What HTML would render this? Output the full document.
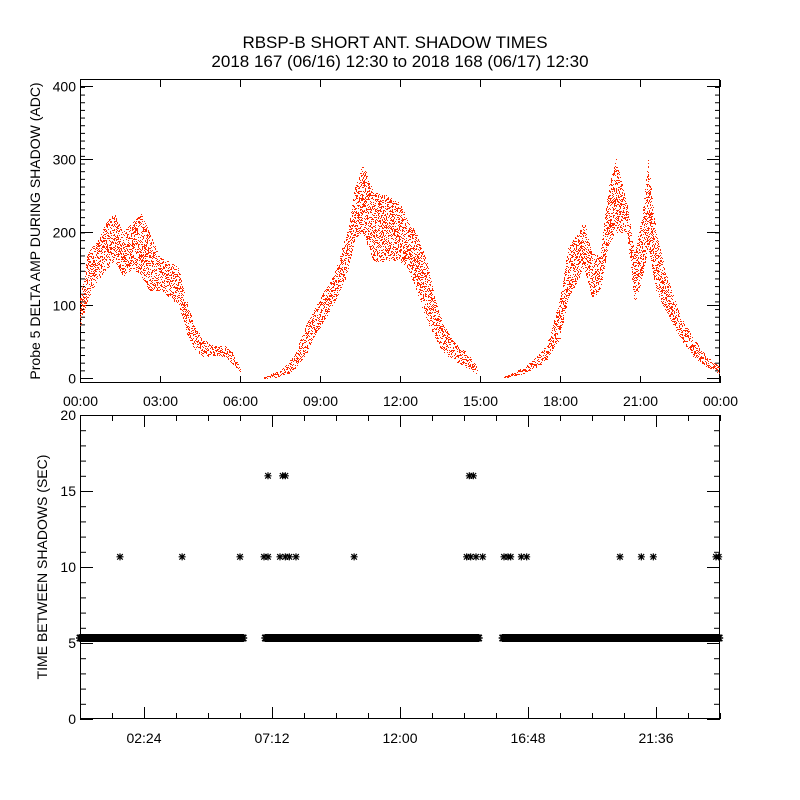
<!DOCTYPE html>
<html><head><meta charset="utf-8"><style>
body{margin:0;background:#fff}
svg{display:block;font-family:"Liberation Sans",sans-serif}
</style></head><body>
<svg id="c" width="800" height="800" viewBox="0 0 800 800">
<rect width="800" height="800" fill="#fff"/>
<text x="395" y="48" font-size="17" text-anchor="middle">RBSP-B SHORT ANT. SHADOW TIMES</text>
<text x="400" y="67" font-size="17" text-anchor="middle">2018 167 (06/16) 12:30 to 2018 168 (06/17) 12:30</text>
<text transform="translate(40,231) rotate(-90)" font-size="14" text-anchor="middle">Probe 5 DELTA AMP DURING SHADOW (ADC)</text>
<text transform="translate(47,567) rotate(-90)" font-size="14" text-anchor="middle">TIME BETWEEN SHADOWS (SEC)</text>
<g id="topPanel"></g>
<g id="botPanel"></g>
</svg>
<script>
// Top panel envelope data (hours, ADC)
const seg1T=[0,0.3,0.6,1.0,1.3,1.6,2.0,2.3,2.6,3.0,3.4,3.7,4.0,4.3,4.6,5.0,5.4,5.7,6.0];
const seg1Hi=[110,175,185,215,225,200,215,225,200,165,160,150,105,70,55,45,45,35,15];
const seg1Lo=[70,110,130,150,160,140,150,140,120,120,110,100,60,40,30,30,30,20,8];
const seg2T=[6.9,7.5,8.0,8.5,9.0,9.5,10.0,10.3,10.6,11.0,11.5,12.0,12.3,12.6,13.0,13.3,13.6,14.0,14.5,14.9];
const seg2Hi=[2,10,30,75,110,140,200,260,295,255,250,240,215,200,160,110,75,50,35,15];
const seg2Lo=[0,2,10,35,70,100,140,190,200,160,160,160,150,120,80,55,35,25,15,5];
const seg3T=[15.9,16.5,17.0,17.5,18.0,18.3,18.6,18.9,19.2,19.5,19.8,20.1,20.5,20.8,21.1,21.3,21.6,22.0,22.5,23.0,23.5,24];
const seg3Hi=[2,12,25,45,110,180,195,215,170,170,260,300,240,170,230,300,200,140,85,55,30,15];
const seg3Lo=[0,5,12,25,55,110,130,150,110,120,180,200,200,100,140,180,120,90,55,30,15,5];
const topXLabels=["00:00","03:00","06:00","09:00","12:00","15:00","18:00","21:00","00:00"];
const topYLabels=[0,100,200,300,400];
// Bottom panel data
const baseRanges=[[0,6.15],[6.95,14.95],[15.85,24]];
const baseValue=5.33;
const t10=[1.5,3.83,6.0,6.9,7.05,7.5,7.7,7.85,8.1,10.28,14.5,14.65,14.85,15.1,15.9,16.05,16.15,16.55,16.75,20.25,21.05,21.5,23.85,23.95];
const v10=10.67;
const t16=[7.05,7.6,7.7,14.6,14.75];
const v16=16;
const botXLabels=["02:24","07:12","12:00","16:48","21:36"];
const botYLabels=[0,5,10,15,20];

const NS="http://www.w3.org/2000/svg";
const X0=80,X1=720;
const xs=h=>X0+h*(X1-X0)/24;
const yTop=v=>378-v*0.73;
const yBot=v=>719-v*15.2;
function mk(p,tag,a){const e=document.createElementNS(NS,tag);for(const k in a)e.setAttribute(k,a[k]);p.appendChild(e);return e;}
const topG=document.getElementById('topPanel'),botG=document.getElementById('botPanel');

const f1=mk(topG,'rect',{x:80.5,y:79.5,width:639,height:303,fill:'none',stroke:'#000'});


const f2=mk(botG,'rect',{x:80.5,y:415.5,width:639,height:303,fill:'none',stroke:'#000'});



for(let i=0;i<topXLabels.length;i++){
  const x=xs(i*3)+0.5;
  mk(topG,'line',{x1:x,y1:383,x2:x,y2:376,stroke:'#000'});
  mk(topG,'line',{x1:x,y1:80,x2:x,y2:87,stroke:'#000'});
  const t=mk(topG,'text',{x:x,y:406,'font-size':14,'text-anchor':'middle'});
  t.textContent=topXLabels[i];
  
  
}
for(let y=yTop(0);y>=80;y-=7.66){
  mk(topG,'line',{x1:80,y1:y+0.5,x2:85,y2:y+0.5,stroke:'#000'});
  mk(topG,'line',{x1:720,y1:y+0.5,x2:715,y2:y+0.5,stroke:'#000'});
}
topYLabels.forEach(v=>{
  const y=yTop(v)+0.5;
  mk(topG,'line',{x1:80,y1:y,x2:93,y2:y,stroke:'#000'});
  mk(topG,'line',{x1:720,y1:y,x2:707,y2:y,stroke:'#000'});
  const t=mk(topG,'text',{x:76,y:y+5,'font-size':14,'text-anchor':'end'});
  t.textContent=v;
  
  
});

function interp(T,A,h){for(let i=0;i<T.length-1;i++){if(h>=T[i]&&h<=T[i+1]){const f=(h-T[i])/(T[i+1]-T[i]);return A[i]+f*(A[i+1]-A[i]);}}return null;}
// deterministic dither pattern for filling the envelope (rendering only)
function dith(n){const s=Math.sin(n*12.9898)*43758.5453;return s-Math.floor(s);}
let path='';let n=0;
[[seg1T,seg1Hi,seg1Lo],[seg2T,seg2Hi,seg2Lo],[seg3T,seg3Hi,seg3Lo]].forEach(([T,H,L])=>{
  for(let h=T[0];h<=T[T.length-1];h+=0.0375){
    const hi=interp(T,H,h),lo=interp(T,L,h);
    if(hi===null)continue;
    const x=Math.round(xs(h));
    const cnt=Math.max(3,Math.round((hi-lo)*0.73*0.45));
    for(let j=0;j<cnt;j++){
      n++;
      const f=dith(n);
      const y=Math.round(yTop(lo+(hi-lo)*f));
      path+=`M${x} ${y}h1v1h-1z`;
    }
  }
});
const sc=mk(topG,'path',{d:path,fill:'#ff2a00','shape-rendering':'crispEdges'});



for(let x=X0;x<=X1;x+=32){
  const big=((x-X0)/32)%4===2;
  mk(botG,'line',{x1:x+0.5,y1:719,x2:x+0.5,y2:big?707:713,stroke:'#000'});
  mk(botG,'line',{x1:x+0.5,y1:415,x2:x+0.5,y2:big?427:421,stroke:'#000'});
}
botXLabels.forEach((l,i)=>{
  const t=mk(botG,'text',{x:xs(2.4+4.8*i),y:743,'font-size':14,'text-anchor':'middle'});
  t.textContent=l;
  
  
});
for(let v=0;v<=20;v++){
  const y=yBot(v)+0.5,big=v%5===0;
  mk(botG,'line',{x1:80,y1:y,x2:big?93:86,y2:y,stroke:'#000'});
  mk(botG,'line',{x1:720,y1:y,x2:big?707:714,y2:y,stroke:'#000'});
}
botYLabels.forEach(v=>{
  const t=mk(botG,'text',{x:76,y:yBot(v)+5,'font-size':14,'text-anchor':'end'});
  t.textContent=v;
  
  
});

function star(x,y,r){return `M${x-r} ${y}h${2*r}M${x} ${y-r}v${2*r}M${x-r*0.8} ${y-r*0.8}l${r*1.6} ${r*1.6}M${x-r*0.8} ${y+r*0.8}l${r*1.6} ${-r*1.6}`;}
let sp='';
baseRanges.forEach(([a,b])=>{for(let h=a;h<=b;h+=0.04){sp+=star(xs(h),yBot(baseValue),4);}});
const band=mk(botG,'path',{d:sp,stroke:'#000','stroke-width':1.5,fill:'none'});


let s10='';t10.forEach(h=>s10+=star(xs(h),yBot(v10),3.5));
const p10=mk(botG,'path',{d:s10,stroke:'#000','stroke-width':1.2,fill:'none'});


let s16='';t16.forEach(h=>s16+=star(xs(h),yBot(v16),3.5));
const p16=mk(botG,'path',{d:s16,stroke:'#000','stroke-width':1.2,fill:'none'});


</script>
</body></html>
